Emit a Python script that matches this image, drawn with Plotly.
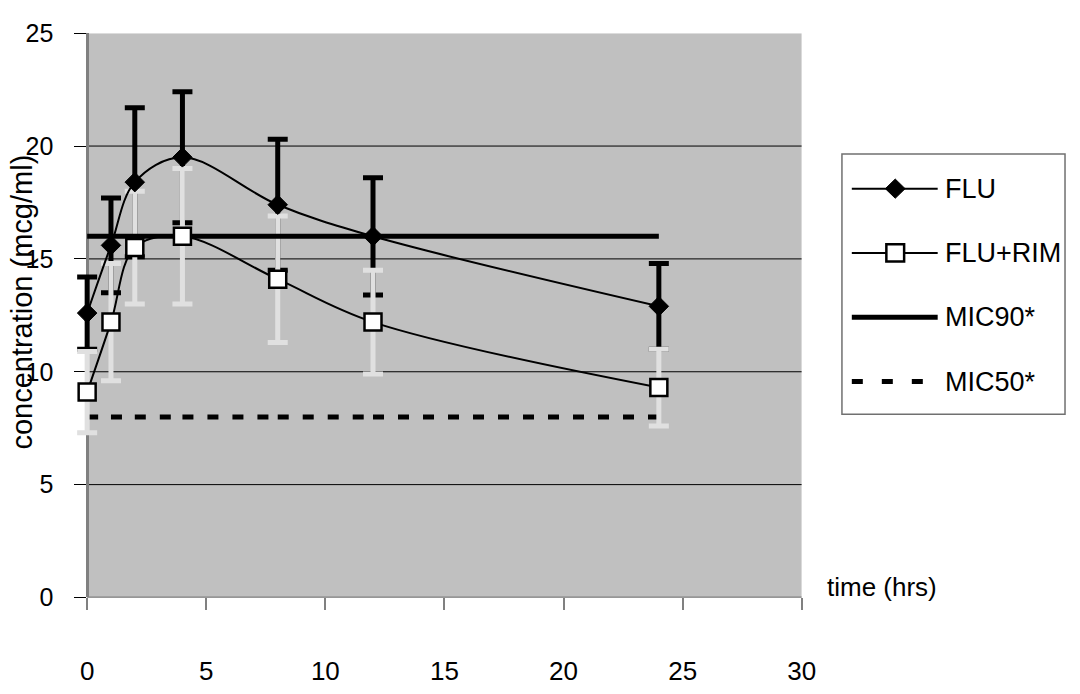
import plotly.graph_objects as go

# Sampling times (hrs)
times = [0, 1, 2, 4, 8, 12, 24]

# Mean concentrations (mcg/ml) and standard deviations
flu = [12.6, 15.6, 18.4, 19.5, 17.4, 16.0, 12.9]
flu_sd = [1.6, 2.1, 3.3, 2.9, 2.9, 2.6, 1.9]
flu_rim = [9.1, 12.2, 15.5, 16.0, 14.1, 12.2, 9.3]
flu_rim_sd = [1.8, 2.6, 2.5, 3.0, 2.8, 2.3, 1.7]

# Reference MIC levels (mcg/ml)
mic90 = 16
mic50 = 8

x_ticks = [0, 5, 10, 15, 20, 25, 30]
y_ticks = [0, 5, 10, 15, 20, 25]
grid_levels = y_ticks[1:-1]

series_names = ["FLU", "FLU+RIM", "MIC90*", "MIC50*"]

W, H = 1080, 694
FONT = "Liberation Sans, Arial, sans-serif"

# pixel frame of the grey plotting area
AX_L, AX_R, AX_T, AX_B = 88.3, 812.3, 20, 608
PAD_L = 40  # extra room left of x=0 so markers on the axis are not clipped


def px(x):
    return x / W


def py(y):
    return 1 - y / H


x_min, x_max = x_ticks[0], x_ticks[-1]
units_per_px = (x_max - x_min) / (AX_R - AX_L)
x_lo = x_min - PAD_L * units_per_px

fig = go.Figure()

# MIC50: dashed line, dash pattern restarts on every segment between sampling times
for i in range(len(times) - 1):
    fig.add_trace(go.Scatter(
        x=[times[i], times[i + 1]], y=[mic50, mic50], mode="lines",
        line=dict(color="black", width=5, dash="11px,14px"),
        showlegend=False, hoverinfo="skip"))

# error bars for FLU (black) then FLU+RIM (light grey, drawn on top)
fig.add_trace(go.Scatter(
    x=times, y=flu, mode="markers",
    marker=dict(size=1, color="rgba(0,0,0,0)"),
    error_y=dict(type="data", array=flu_sd, visible=True,
                 color="black", thickness=5, width=10),
    showlegend=False))
fig.add_trace(go.Scatter(
    x=times, y=flu_rim, mode="markers",
    marker=dict(size=1, color="rgba(0,0,0,0)"),
    error_y=dict(type="data", array=flu_rim_sd, visible=True,
                 color="#E0E0E0", thickness=5, width=10),
    showlegend=False))

# MIC90 solid line
fig.add_trace(go.Scatter(
    x=[times[0], times[-1]], y=[mic90, mic90], mode="lines",
    line=dict(color="black", width=5),
    showlegend=False))

# FLU+RIM smoothed line with open squares
fig.add_trace(go.Scatter(
    x=times, y=flu_rim, mode="lines+markers", name=series_names[1],
    line=dict(color="black", width=2, shape="spline", smoothing=1),
    marker=dict(symbol="square", size=17, color="white",
                line=dict(color="black", width=2.5)),
    showlegend=False))

# FLU smoothed line with filled diamonds
fig.add_trace(go.Scatter(
    x=times, y=flu, mode="lines+markers", name=series_names[0],
    line=dict(color="black", width=2, shape="spline", smoothing=1),
    marker=dict(symbol="diamond", size=15, color="black",
                line=dict(color="black", width=1)),
    showlegend=False))

shapes = []
# grey plotting area
shapes.append(dict(type="rect", xref="x", yref="y", x0=x_min, x1=x_max,
                   y0=y_ticks[0], y1=y_ticks[-1], fillcolor="#C0C0C0",
                   line=dict(width=0), layer="below"))
# horizontal grid lines
for g in grid_levels:
    shapes.append(dict(type="line", xref="x", yref="y", x0=x_min, x1=x_max,
                       y0=g, y1=g, line=dict(color="black", width=1),
                       layer="below"))
# x axis line
shapes.append(dict(type="line", xref="x", yref="y", x0=x_min, x1=x_max,
                   y0=0, y1=0, line=dict(color="#404040", width=1.5),
                   layer="below"))

# legend box
lx0, lx1, ly0, ly1 = 853, 1079, 146, 417
shapes.append(dict(type="rect", xref="paper", yref="paper",
                   x0=px(lx0), x1=px(lx1), y0=py(ly0), y1=py(ly1),
                   line=dict(color="#707070", width=1.5), fillcolor="white"))

item_y = [182, 249, 316, 383]
sx0, sx1, scx = 863, 950, 907
# FLU sample
yc = item_y[0]
shapes.append(dict(type="line", xref="paper", yref="paper",
                   x0=px(sx0), x1=px(sx1), y0=py(yc), y1=py(yc),
                   line=dict(color="black", width=2)))
r = 10
shapes.append(dict(type="path", xref="paper", yref="paper",
                   path=(f"M {px(scx)},{py(yc - r)} L {px(scx + r)},{py(yc)} "
                         f"L {px(scx)},{py(yc + r)} L {px(scx - r)},{py(yc)} Z"),
                   fillcolor="black", line=dict(color="black", width=1)))
# FLU+RIM sample
yc = item_y[1]
shapes.append(dict(type="line", xref="paper", yref="paper",
                   x0=px(sx0), x1=px(sx1), y0=py(yc), y1=py(yc),
                   line=dict(color="black", width=2)))
h = 9
shapes.append(dict(type="rect", xref="paper", yref="paper",
                   x0=px(scx - h), x1=px(scx + h), y0=py(yc - h), y1=py(yc + h),
                   fillcolor="white", line=dict(color="black", width=2.5)))
# MIC90 sample
yc = item_y[2]
shapes.append(dict(type="line", xref="paper", yref="paper",
                   x0=px(sx0), x1=px(sx1), y0=py(yc), y1=py(yc),
                   line=dict(color="black", width=5)))
# MIC50 sample
yc = item_y[3]
shapes.append(dict(type="line", xref="paper", yref="paper",
                   x0=px(sx0), x1=px(sx1 - 10), y0=py(yc), y1=py(yc),
                   line=dict(color="black", width=5, dash="11px,19px")))

annotations = []
for name, yc in zip(series_names, item_y):
    annotations.append(dict(text=name, xref="paper", yref="paper",
                            x=px(955), y=py(yc), xanchor="left", yanchor="middle",
                            showarrow=False, font=dict(size=27, color="black", family=FONT)))

annotations.append(dict(text="concentration (mcg/ml)", xref="paper", yref="paper",
                        x=px(22), y=py(300), textangle=-90, showarrow=False,
                        xanchor="center", yanchor="middle",
                        font=dict(size=29, color="black", family=FONT)))
annotations.append(dict(text="time (hrs)", xref="paper", yref="paper",
                        x=px(836), y=py(597), xanchor="left", yanchor="middle",
                        showarrow=False, font=dict(size=26, color="black", family=FONT)))

fig.update_layout(
    width=W, height=H,
    margin=dict(l=0, r=0, t=0, b=0),
    paper_bgcolor="white",
    plot_bgcolor="rgba(0,0,0,0)",
    font=dict(family=FONT, color="black"),
    showlegend=False,
    shapes=shapes,
    annotations=annotations,
    xaxis=dict(domain=[px(AX_L - PAD_L), px(AX_R)], range=[x_lo, x_max],
               tickvals=x_ticks, ticks="outside", ticklen=12,
               tickcolor="#808080", tickwidth=1.5,
               showline=False, showgrid=False, zeroline=False,
               layer="below traces",
               ticklabelstandoff=38,
               tickfont=dict(size=26, family=FONT, color="black")),
    yaxis=dict(domain=[1 - AX_B / H, 1 - AX_T / H], range=[y_ticks[0], y_ticks[-1]],
               anchor="free", position=px(AX_L),
               tickvals=y_ticks, ticks="outside", ticklen=12,
               tickcolor="black", tickwidth=1,
               showline=True, linecolor="#808080", linewidth=2.5,
               showgrid=False, zeroline=False, layer="below traces",
               ticklabelstandoff=16,
               tickfont=dict(size=25, family=FONT, color="black")),
)

fig.write_html("out.html")
